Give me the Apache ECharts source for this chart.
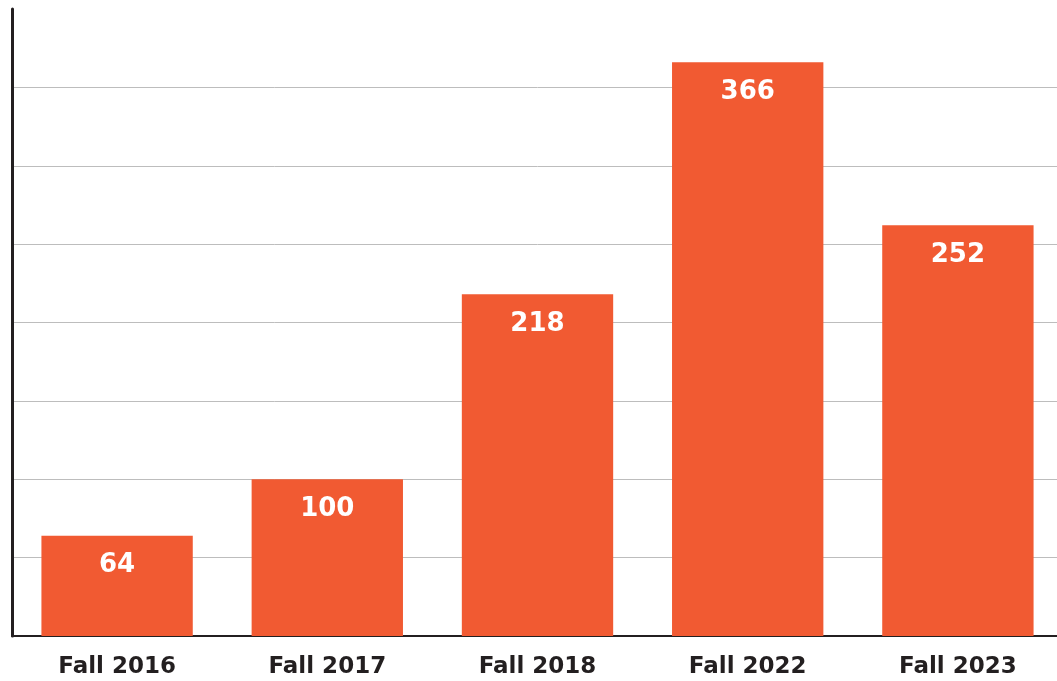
<!DOCTYPE html>
<html>
<head>
<meta charset="utf-8">
<script src="https://cdn.jsdelivr.net/npm/echarts@6/dist/echarts.min.js"></script>
<style>
  html, body { margin: 0; padding: 0; background: #fff; overflow: hidden; }
  #chart { width: 1063px; height: 681px; }
</style>
</head>
<body>
<div id="chart"></div>
<script>
const categories = ["Fall 2016", "Fall 2017", "Fall 2018", "Fall 2022", "Fall 2023"];
// bar heights as drawn (the last bar stands taller than its printed label)
const barValues = [64, 100, 218, 366, 262];
const barLabels = ["64", "100", "218", "366", "252"];

// chart div is a bit wider than the window: the last bar runs off the right edge
const chart = echarts.init(document.getElementById("chart"));
chart.setOption({
  animation: false,
  grid: { left: 12, right: 0, top: 9, bottom: 45 },
  xAxis: {
    type: "category",
    data: categories,
    axisTick: { show: false },
    axisLine: { lineStyle: { color: "#231f20", width: 2 } },
    axisLabel: {
      margin: 20,
      color: "#231f20",
      fontFamily: "DejaVu Sans",
      fontWeight: "bold",
      fontSize: 23
    }
  },
  yAxis: {
    type: "value",
    min: 0,
    max: 400,
    interval: 50,
    axisLabel: { show: false },
    axisTick: { show: false },
    axisLine: { show: true, lineStyle: { color: "#231f20", width: 3 } },
    splitLine: {
      lineStyle: {
        color: ["#bdbdbd", "#bdbdbd", "#bdbdbd", "#bdbdbd", "#bdbdbd", "#bdbdbd", "#bdbdbd", "#bdbdbd", "transparent"],
        width: 1
      }
    }
  },
  series: [{
    type: "bar",
    data: barValues,
    barCategoryGap: "28%",
    itemStyle: { color: "#f15a32" },
    label: {
      show: true,
      position: "insideTop",
      distance: 17,
      color: "#fff",
      fontFamily: "DejaVu Sans",
      fontWeight: "bold",
      fontSize: 26,
      formatter: p => barLabels[p.dataIndex]
    }
  }]
});
</script>
</body>
</html>
